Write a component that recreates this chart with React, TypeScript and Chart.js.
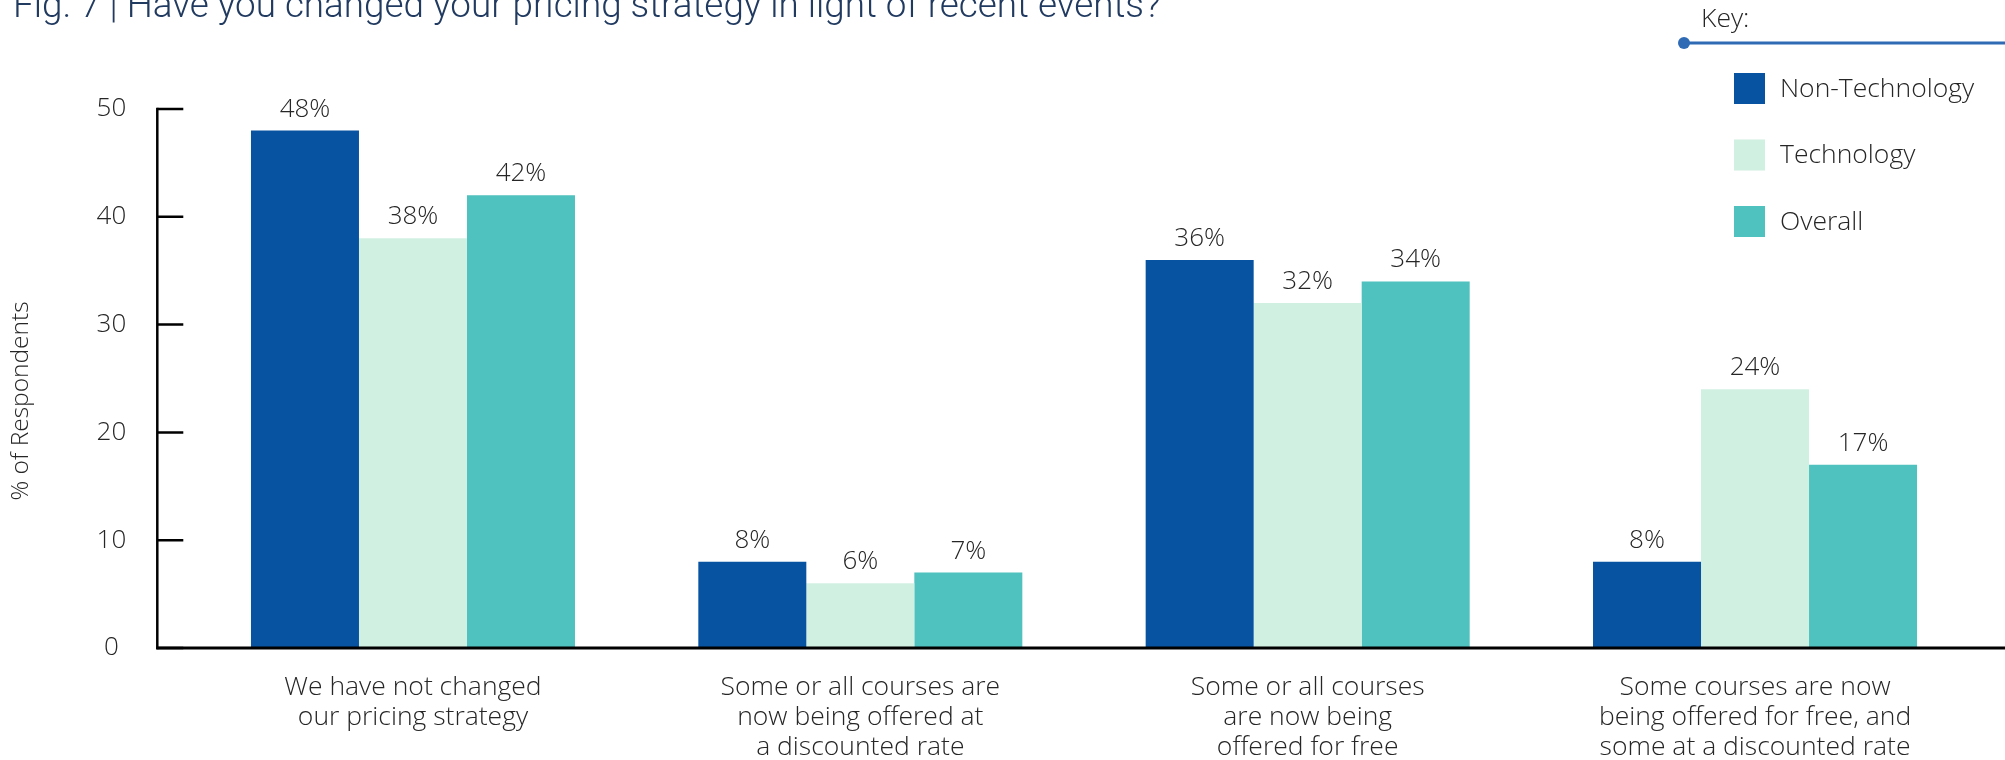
import React, { useEffect, useRef } from "react";
import { Chart, registerables } from "chart.js";

Chart.register(...registerables);

const titleText = "Fig. 7 | Have you changed your pricing strategy in light of recent events?";
const yAxisTitle = "% of Respondents";
const keyTitle = "Key:";

const categories: string[][] = [
  ["We have not changed", "our pricing strategy"],
  ["Some or all courses are", "now being offered at", "a discounted rate"],
  ["Some or all courses", "are now being", "offered for free"],
  ["Some courses are now", "being offered for free, and", "some at a discounted rate"],
];

const seriesNames = ["Non-Technology", "Technology", "Overall"];
const nonTechnology = [48, 8, 36, 8];
const technology = [38, 6, 32, 24];
const overall = [42, 7, 34, 17];
const yTicks = [0, 10, 20, 30, 40, 50];

const seriesColors = ["#0753A1", "#D0F0E2", "#4FC1BE"];

const FONT = "'Open Sans', 'Noto Sans', sans-serif";
const TEXT = "#262626";

const decorPlugin = {
  id: "decor",
  afterDatasetsDraw(chart: any) {
    const ctx: CanvasRenderingContext2D = chart.ctx;
    const ys = chart.scales.y;
    const area = chart.chartArea;
    const axisX = area.left - 32;
    const y0 = ys.getPixelForValue(0);
    const yTop = ys.getPixelForValue(yTicks[yTicks.length - 1]);
    ctx.save();
    ctx.strokeStyle = "#000";
    ctx.lineWidth = 2.5;
    ctx.lineCap = "square";
    ctx.beginPath();
    ctx.moveTo(axisX, yTop);
    ctx.lineTo(axisX, y0);
    ctx.stroke();
    ctx.lineCap = "butt";
    ctx.beginPath();
    ys.ticks.forEach((t: any) => {
      const py = ys.getPixelForValue(t.value);
      ctx.moveTo(axisX, py);
      ctx.lineTo(axisX + 26, py);
    });
    ctx.stroke();
    ctx.lineWidth = 3;
    ctx.beginPath();
    ctx.moveTo(axisX - 1, y0);
    ctx.lineTo(chart.width, y0);
    ctx.stroke();

    // value labels
    ctx.fillStyle = TEXT;
    ctx.font = `300 26px ${FONT}`;
    ctx.textAlign = "center";
    ctx.textBaseline = "alphabetic";
    chart.data.datasets.forEach((ds: any, di: number) => {
      const meta = chart.getDatasetMeta(di);
      meta.data.forEach((el: any, i: number) => {
        ctx.fillText(`${ds.data[i]}%`, el.x, el.y - 14);
      });
    });
    ctx.restore();
  },
  afterDraw(chart: any) {
    const ctx: CanvasRenderingContext2D = chart.ctx;
    ctx.save();
    // Title (partially cut at the top, as in the reference)
    ctx.font = `300 100px Roboto, sans-serif`;
    const w100 = ctx.measureText(titleText).width;
    const size = (100 * 1148) / w100;
    ctx.font = `300 ${size}px Roboto, sans-serif`;
    ctx.fillStyle = "#213A60";
    ctx.textAlign = "left";
    ctx.textBaseline = "alphabetic";
    ctx.fillText(titleText, 13, 17);

    // Y axis title
    ctx.save();
    ctx.translate(21, 401);
    ctx.rotate(-Math.PI / 2);
    ctx.font = `300 24.5px ${FONT}`;
    ctx.fillStyle = TEXT;
    ctx.textAlign = "center";
    ctx.textBaseline = "middle";
    ctx.fillText(yAxisTitle, 0, 0);
    ctx.restore();

    // Key
    ctx.font = `300 26.5px ${FONT}`;
    ctx.fillStyle = TEXT;
    ctx.textAlign = "left";
    ctx.textBaseline = "alphabetic";
    ctx.fillText(keyTitle, 1701, 27);
    ctx.strokeStyle = "#2F6AB5";
    ctx.lineWidth = 3;
    ctx.beginPath();
    ctx.moveTo(1684, 43);
    ctx.lineTo(chart.width, 43);
    ctx.stroke();
    ctx.fillStyle = "#2F6AB5";
    ctx.beginPath();
    ctx.arc(1684, 43, 6, 0, Math.PI * 2);
    ctx.fill();

    chart.data.datasets.forEach((ds: any, i: number) => {
      const top = 73 + i * 66.5;
      ctx.fillStyle = ds.backgroundColor;
      ctx.fillRect(1734, top, 31, 31);
      ctx.fillStyle = TEXT;
      ctx.font = `300 26.5px ${FONT}`;
      ctx.textBaseline = "middle";
      ctx.fillText(ds.label, 1780, top + 16);
    });
    ctx.restore();
  },
};

export default function App() {
  const ref = useRef<HTMLCanvasElement | null>(null);

  useEffect(() => {
    if (!ref.current) return;
    const series = [nonTechnology, technology, overall];
    const chart = new Chart(ref.current, {
      type: "bar",
      data: {
        labels: categories,
        datasets: series.map((d, i) => ({
          label: seriesNames[i],
          data: d,
          backgroundColor: seriesColors[i],
          borderWidth: 0,
          barPercentage: 1,
          categoryPercentage: 0.7243,
        })),
      },
      options: {
        responsive: false,
        animation: false,
        layout: { padding: { top: 109, right: 26.3, bottom: 0, left: 0 } },
        plugins: {
          legend: { display: false },
          title: { display: false },
          tooltip: { enabled: false },
        },
        scales: {
          x: {
            grid: { display: false, drawTicks: false },
            border: { display: false },
            ticks: {
              color: TEXT,
              font: { family: FONT, size: 26.5, weight: "300", lineHeight: 30 / 26.5 },
              padding: 24,
              maxRotation: 0,
              autoSkip: false,
            },
            afterFit: (s: any) => {
              s.height = 112;
            },
          },
          y: {
            min: 0,
            max: 50,
            grid: { display: false, drawTicks: false },
            border: { display: false },
            afterBuildTicks: (s: any) => {
              s.ticks = yTicks.map((v) => ({ value: v }));
            },
            ticks: {
              color: TEXT,
              font: { family: FONT, size: 26, weight: "300" },
              crossAlign: "center",
              padding: 63,
            },
            afterFit: (s: any) => {
              s.width = 189.3;
            },
          },
        },
      },
      plugins: [decorPlugin],
    });
    return () => chart.destroy();
  }, []);

  return (
    <div style={{ position: "absolute", left: 0, top: 0, width: 2005, height: 760, background: "#fff" }}>
      <canvas ref={ref} width={2005} height={760} style={{ display: "block" }} />
    </div>
  );
}
